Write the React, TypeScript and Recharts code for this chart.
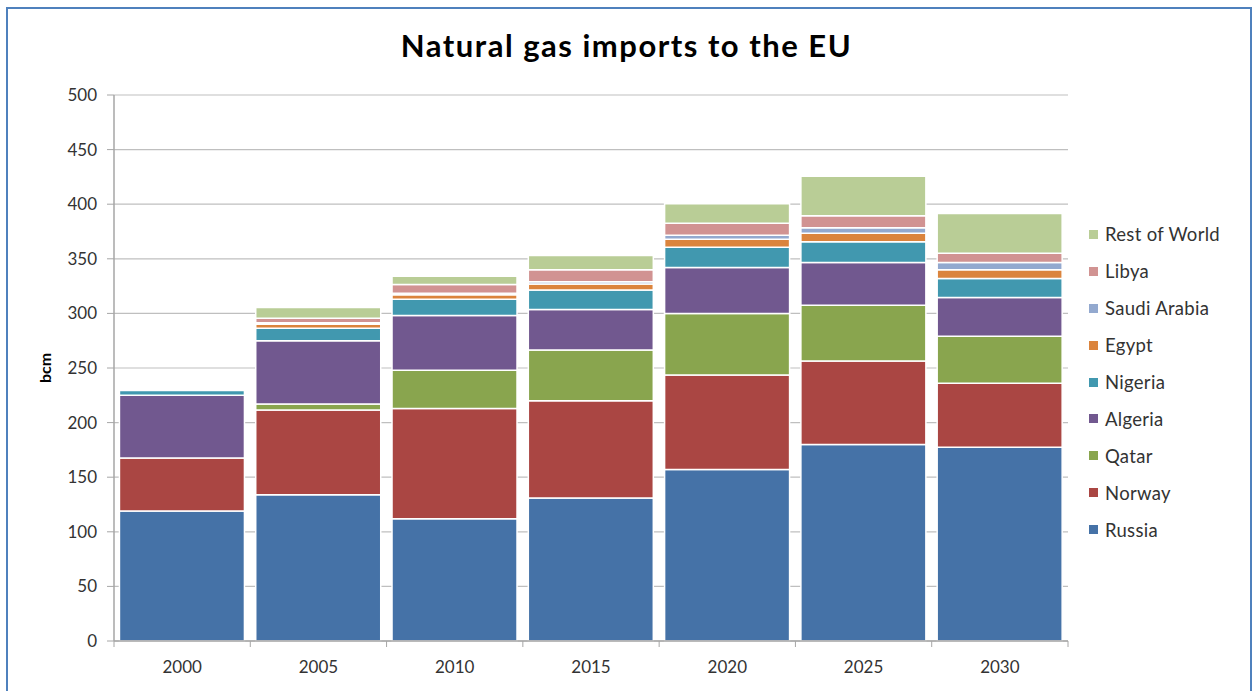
import React from 'react';
import { BarChart, Bar, XAxis, YAxis, CartesianGrid, Legend } from 'recharts';

const years = ['2000', '2005', '2010', '2015', '2020', '2025', '2030'];
const russia = [119, 134, 112, 131, 157, 180, 177.5];
const norway = [48.5, 77.5, 101, 89, 86.5, 76.5, 58.5];
const qatar = [0, 5.5, 35, 46.5, 56.5, 51, 43];
const algeria = [57.5, 58, 50, 37, 42, 39, 35.5];
const nigeria = [4.5, 11.5, 15, 18, 18.5, 19, 17.5];
const egypt = [0, 3.5, 4, 5.5, 7.5, 8, 8];
const saudiArabia = [0, 1.5, 1.5, 2, 3.5, 5, 6.5];
const libya = [0, 4, 8, 11, 11, 11, 8.5];
const restOfWorld = [0, 10, 7.5, 13, 18, 36, 36.5];
const yTicks = [0, 50, 100, 150, 200, 250, 300, 350, 400, 450, 500];

const series = [
  { key: 'Russia', values: russia, color: '#4572A7' },
  { key: 'Norway', values: norway, color: '#AA4643' },
  { key: 'Qatar', values: qatar, color: '#89A54E' },
  { key: 'Algeria', values: algeria, color: '#71588F' },
  { key: 'Nigeria', values: nigeria, color: '#4198AF' },
  { key: 'Egypt', values: egypt, color: '#DB843D' },
  { key: 'Saudi Arabia', values: saudiArabia, color: '#93A9CF' },
  { key: 'Libya', values: libya, color: '#D19392' },
  { key: 'Rest of World', values: restOfWorld, color: '#B9CD96' },
];

const data = years.map((y, i) => {
  const row: any = { year: y };
  series.forEach((s) => (row[s.key] = s.values[i]));
  return row;
});

const FONT = 'Lato, "Open Sans", sans-serif';

const XTick = (props: any) => {
  const { x, y, payload, index } = props;
  const half = payload && payload.offset ? payload.offset : 68;
  return (
    <g>
      <line x1={x - half} x2={x - half} y1={y - 8} y2={y - 2} stroke="#A6A6A6" />
      {index === years.length - 1 && (
        <line x1={x + half} x2={x + half} y1={y - 8} y2={y - 2} stroke="#A6A6A6" />
      )}
      <text x={x} y={y + 24} textAnchor="middle" fill="#333" fontSize={17} fontFamily={FONT}>
        {payload.value}
      </text>
    </g>
  );
};

const LegendContent = () => {
  const items = series.slice().reverse();
  return (
    <div style={{ fontFamily: FONT, fontSize: 18.5, letterSpacing: 0.3, color: '#333' }}>
      {items.map((p) => (
        <div key={p.key} style={{ display: 'flex', alignItems: 'center', height: 36.9 }}>
          <span style={{ display: 'inline-block', width: 9, height: 9, background: p.color, marginRight: 7 }} />
          <span>{p.key}</span>
        </div>
      ))}
    </div>
  );
};

export default function App() {
  return (
    <div style={{ position: 'absolute', left: 0, top: 0, width: 1253, height: 691, overflow: 'hidden', background: '#fff' }}>
      <div
        style={{
          position: 'absolute',
          left: 6,
          top: 7,
          width: 1242,
          height: 700,
          border: '2px solid #4F81BD',
        }}
      />
      <div
        style={{
          position: 'absolute',
          left: 0,
          top: 26,
          width: 1253,
          textAlign: 'center',
          fontFamily: FONT,
          fontWeight: 700,
          fontSize: 31,
          letterSpacing: 1.5,
          color: '#000',
        }}
      >
        Natural gas imports to the EU
      </div>
      <div style={{ position: 'absolute', left: 0, top: 0 }}>
        <BarChart
          width={1253}
          height={691}
          data={data}
          margin={{ top: 95, right: 20, bottom: 20, left: 54 }}
          barCategoryGap="4%"
        >
          <CartesianGrid vertical={false} stroke="#BFBFBF" strokeWidth={1.2} />
          <XAxis
            dataKey="year"
            tickLine={false}
            axisLine={{ stroke: '#A6A6A6', strokeWidth: 1.5 }}
            tick={<XTick />}
            interval={0}
            height={30}
          />
          <YAxis
            width={60}
            domain={[0, 500]}
            ticks={yTicks}
            interval={0}
            axisLine={{ stroke: '#A6A6A6', strokeWidth: 1.5 }}
            tickLine={{ stroke: '#A6A6A6' }}
            tickSize={7}
            tickMargin={10}
            tick={{ fill: '#333', fontSize: 17, fontFamily: FONT }}
            label={{
              value: 'bcm',
              angle: -90,
              position: 'insideLeft',
              offset: -9,
              style: { fontFamily: FONT, fontWeight: 700, fontSize: 16, fill: '#000', textAnchor: 'middle' },
            }}
          />
          <Legend
            layout="horizontal"
            verticalAlign="middle"
            align="right"
            content={<LegendContent />}
            wrapperStyle={{ left: 1089, top: 216, width: 165 }}
          />
          {series.map((s) => (
            <Bar
              key={s.key}
              dataKey={s.key}
              stackId="a"
              fill={s.color}
              stroke="#fff"
              strokeWidth={1.5}
              isAnimationActive={false}
            />
          ))}
        </BarChart>
      </div>
    </div>
  );
}
